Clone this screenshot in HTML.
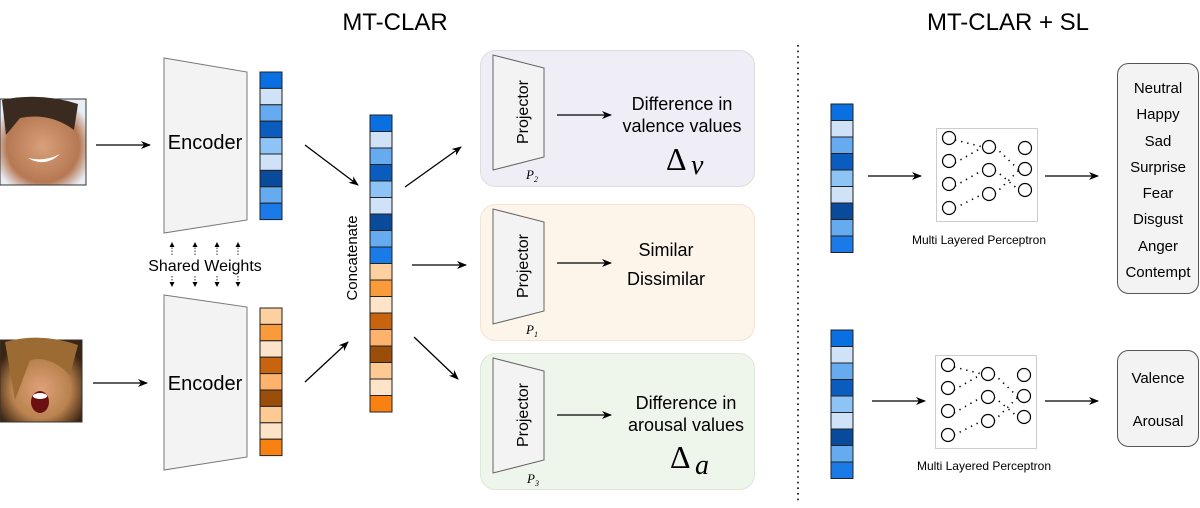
<!DOCTYPE html>
<html><head><meta charset="utf-8"><style>
html,body{margin:0;padding:0;background:#fff;}
svg{display:block;font-family:"Liberation Sans",Arial,sans-serif;}
</style></head><body>
<svg width="1200" height="508" viewBox="0 0 1200 508" xmlns="http://www.w3.org/2000/svg">
<defs>
<marker id="ah" markerWidth="10" markerHeight="8" refX="9" refY="4" orient="auto" markerUnits="userSpaceOnUse">
<path d="M0,0 L10,4 L0,8 L3,4 Z" fill="#000"/></marker>
<marker id="sh" markerWidth="5" markerHeight="5" refX="4" refY="2.5" orient="auto" markerUnits="userSpaceOnUse">
<path d="M0,0 L5,2.5 L0,5 Z" fill="#000"/></marker>
<radialGradient id="skin1" cx="0.5" cy="0.55" r="0.6"><stop offset="0" stop-color="#d9a07a"/><stop offset="0.7" stop-color="#b57853"/><stop offset="1" stop-color="#e8eef5"/></radialGradient>
<radialGradient id="skin2" cx="0.5" cy="0.6" r="0.6"><stop offset="0" stop-color="#e0a27a"/><stop offset="0.6" stop-color="#b9824e"/><stop offset="1" stop-color="#3a2412"/></radialGradient>
</defs>

<text x="395" y="30" font-size="24" text-anchor="middle">MT-CLAR</text>
<text x="1008" y="30" font-size="24" text-anchor="middle">MT-CLAR + SL</text>

<rect x="0" y="99" width="86" height="86" fill="url(#skin1)" stroke="#333" stroke-width="1"/>
<path d="M2,100 Q40,92 78,104 L74,130 Q50,112 20,118 L6,135 Z" fill="#3a2a20"/>
<path d="M28,158 Q45,168 60,154 Q45,162 28,158Z" fill="#fff"/>
<rect x="0" y="340" width="82" height="82" fill="url(#skin2)" stroke="#333" stroke-width="1"/>
<path d="M5,342 Q40,332 78,345 L70,375 Q50,355 30,360 L15,400 Z" fill="#9c6a33"/>
<ellipse cx="40" cy="402" rx="9" ry="11" fill="#6a1010"/>
<ellipse cx="40" cy="396" rx="7" ry="3" fill="#fff"/>

<line x1="96" y1="145" x2="150" y2="145" stroke="#000" stroke-width="1.3" marker-end="url(#ah)"/>
<line x1="93" y1="383" x2="147" y2="383" stroke="#000" stroke-width="1.3" marker-end="url(#ah)"/>

<polygon points="164,58 247,72 247,220 164,233" fill="#f3f3f3" stroke="#777" stroke-width="1"/>
<text x="205" y="149" font-size="20" text-anchor="middle">Encoder</text>
<polygon points="164,295 247,307 247,457 164,470" fill="#f3f3f3" stroke="#777" stroke-width="1"/>
<text x="205" y="390" font-size="20" text-anchor="middle">Encoder</text>

<g stroke="#000" stroke-width="0.8" stroke-dasharray="1.5,1.5">
<line x1="172" y1="255" x2="172" y2="243" marker-end="url(#sh)"/>
<line x1="195" y1="255" x2="195" y2="243" marker-end="url(#sh)"/>
<line x1="217" y1="255" x2="217" y2="243" marker-end="url(#sh)"/>
<line x1="238" y1="255" x2="238" y2="243" marker-end="url(#sh)"/>
<line x1="172" y1="276" x2="172" y2="286" marker-end="url(#sh)"/>
<line x1="195" y1="276" x2="195" y2="286" marker-end="url(#sh)"/>
<line x1="217" y1="276" x2="217" y2="286" marker-end="url(#sh)"/>
<line x1="238" y1="276" x2="238" y2="286" marker-end="url(#sh)"/>
</g>
<text x="205" y="271" font-size="16" text-anchor="middle">Shared Weights</text>

<g stroke="#222" stroke-width="1">
<rect x="260" y="72" width="22" height="16.4" fill="#0a6fe0"/>
<rect x="260" y="88.4" width="22" height="16.4" fill="#cfe2f7"/>
<rect x="260" y="104.8" width="22" height="16.4" fill="#66aaf0"/>
<rect x="260" y="121.2" width="22" height="16.4" fill="#0a5cbe"/>
<rect x="260" y="137.6" width="22" height="16.4" fill="#8ec3f5"/>
<rect x="260" y="154" width="22" height="16.4" fill="#cfe2f7"/>
<rect x="260" y="170.4" width="22" height="16.4" fill="#0a4a9a"/>
<rect x="260" y="186.8" width="22" height="16.4" fill="#66aaf0"/>
<rect x="260" y="203.2" width="22" height="16.4" fill="#1a7ae8"/>

<rect x="260" y="308" width="22" height="16.4" fill="#fdd0a0"/>
<rect x="260" y="324.4" width="22" height="16.4" fill="#f99a3b"/>
<rect x="260" y="340.8" width="22" height="16.4" fill="#fde3c8"/>
<rect x="260" y="357.2" width="22" height="16.4" fill="#c8640e"/>
<rect x="260" y="373.6" width="22" height="16.4" fill="#fdb36c"/>
<rect x="260" y="390" width="22" height="16.4" fill="#9a4e0a"/>
<rect x="260" y="406.4" width="22" height="16.4" fill="#fdca94"/>
<rect x="260" y="422.8" width="22" height="16.4" fill="#fde3c8"/>
<rect x="260" y="439.2" width="22" height="16.4" fill="#f98112"/>

<rect x="370" y="115" width="22" height="16.5" fill="#0a6fe0"/>
<rect x="370" y="131.5" width="22" height="16.5" fill="#cfe2f7"/>
<rect x="370" y="148" width="22" height="16.5" fill="#66aaf0"/>
<rect x="370" y="164.5" width="22" height="16.5" fill="#0a5cbe"/>
<rect x="370" y="181" width="22" height="16.5" fill="#8ec3f5"/>
<rect x="370" y="197.5" width="22" height="16.5" fill="#cfe2f7"/>
<rect x="370" y="214" width="22" height="16.5" fill="#0a4a9a"/>
<rect x="370" y="230.5" width="22" height="16.5" fill="#66aaf0"/>
<rect x="370" y="247" width="22" height="16.5" fill="#1a7ae8"/>
<rect x="370" y="263.5" width="22" height="16.5" fill="#fdd0a0"/>
<rect x="370" y="280" width="22" height="16.5" fill="#f99a3b"/>
<rect x="370" y="296.5" width="22" height="16.5" fill="#fde3c8"/>
<rect x="370" y="313" width="22" height="16.5" fill="#c8640e"/>
<rect x="370" y="329.5" width="22" height="16.5" fill="#fdb36c"/>
<rect x="370" y="346" width="22" height="16.5" fill="#9a4e0a"/>
<rect x="370" y="362.5" width="22" height="16.5" fill="#fdca94"/>
<rect x="370" y="379" width="22" height="16.5" fill="#fde3c8"/>
<rect x="370" y="395.5" width="22" height="16.5" fill="#f98112"/>

<rect x="831" y="104" width="22" height="16.5" fill="#0a6fe0"/>
<rect x="831" y="120.5" width="22" height="16.5" fill="#cfe2f7"/>
<rect x="831" y="137" width="22" height="16.5" fill="#66aaf0"/>
<rect x="831" y="153.5" width="22" height="16.5" fill="#0a5cbe"/>
<rect x="831" y="170" width="22" height="16.5" fill="#8ec3f5"/>
<rect x="831" y="186.5" width="22" height="16.5" fill="#cfe2f7"/>
<rect x="831" y="203" width="22" height="16.5" fill="#0a4a9a"/>
<rect x="831" y="219.5" width="22" height="16.5" fill="#66aaf0"/>
<rect x="831" y="236" width="22" height="16.5" fill="#1a7ae8"/>

<rect x="831" y="330" width="22" height="16.5" fill="#0a6fe0"/>
<rect x="831" y="346.5" width="22" height="16.5" fill="#cfe2f7"/>
<rect x="831" y="363" width="22" height="16.5" fill="#66aaf0"/>
<rect x="831" y="379.5" width="22" height="16.5" fill="#0a5cbe"/>
<rect x="831" y="396" width="22" height="16.5" fill="#8ec3f5"/>
<rect x="831" y="412.5" width="22" height="16.5" fill="#cfe2f7"/>
<rect x="831" y="429" width="22" height="16.5" fill="#0a4a9a"/>
<rect x="831" y="445.5" width="22" height="16.5" fill="#66aaf0"/>
<rect x="831" y="462" width="22" height="16.5" fill="#1a7ae8"/>
</g>

<text transform="translate(357,258) rotate(-90)" font-size="15" text-anchor="middle">Concatenate</text>

<g stroke="#000" stroke-width="1.3">
<line x1="305" y1="145" x2="358" y2="185" marker-end="url(#ah)"/>
<line x1="305" y1="382" x2="348" y2="342" marker-end="url(#ah)"/>
<line x1="405" y1="187" x2="461" y2="147" marker-end="url(#ah)"/>
<line x1="412" y1="265" x2="466" y2="265" marker-end="url(#ah)"/>
<line x1="414" y1="337" x2="458" y2="379" marker-end="url(#ah)"/>
</g>

<rect x="480.5" y="50.5" width="274" height="136" rx="15" fill="#efedf6" stroke="#ddd"/>
<rect x="480.5" y="204.5" width="274" height="136" rx="15" fill="#fdf4ea" stroke="#f3e3d0"/>
<rect x="480.5" y="353.5" width="274" height="136" rx="15" fill="#eef5ea" stroke="#dde8d6"/>

<g fill="#f3f3f3" stroke="#666" stroke-width="1">
<polygon points="493,55 544,68 544,157 493,170"/>
<polygon points="493,209 544,222 544,311 493,324"/>
<polygon points="493,358 544,371 544,460 493,473"/>
</g>
<text transform="translate(528,112) rotate(-90)" font-size="16" text-anchor="middle">Projector</text>
<text transform="translate(528,266) rotate(-90)" font-size="16" text-anchor="middle">Projector</text>
<text transform="translate(528,415) rotate(-90)" font-size="16" text-anchor="middle">Projector</text>
<g font-family="Liberation Serif,serif" font-style="italic" font-size="13">
<text x="526" y="179">P<tspan font-size="8" dy="3">2</tspan></text>
<text x="526" y="334">P<tspan font-size="8" dy="3">1</tspan></text>
<text x="527" y="483">P<tspan font-size="8" dy="3">3</tspan></text>
</g>

<g stroke="#000" stroke-width="1.3">
<line x1="557" y1="115" x2="611" y2="115" marker-end="url(#ah)"/>
<line x1="557" y1="263" x2="611" y2="263" marker-end="url(#ah)"/>
<line x1="557" y1="415" x2="611" y2="415" marker-end="url(#ah)"/>
</g>
<g font-size="18" text-anchor="middle">
<text x="682" y="110">Difference in</text>
<text x="682" y="132">valence values</text>
<text x="666" y="256">Similar</text>
<text x="666" y="285">Dissimilar</text>
<text x="686" y="409">Difference in</text>
<text x="686" y="431">arousal values</text>
</g>
<g font-family="Liberation Serif,serif">
<text x="666" y="170" font-size="32">Δ</text><text x="691" y="174" font-size="28" font-style="italic">v</text>
<text x="670" y="468" font-size="32">Δ</text><text x="695" y="474" font-size="28" font-style="italic">a</text>
</g>

<line x1="798" y1="45" x2="798" y2="502" stroke="#000" stroke-width="1.6" stroke-dasharray="1.6,4"/>

<g stroke="#000" stroke-width="1.3">
<line x1="868" y1="176" x2="921" y2="176" marker-end="url(#ah)"/>
<line x1="1045" y1="176" x2="1098" y2="176" marker-end="url(#ah)"/>
<line x1="872" y1="401" x2="925" y2="401" marker-end="url(#ah)"/>
<line x1="1045" y1="401" x2="1098" y2="401" marker-end="url(#ah)"/>
</g>

<g id="mlp1">
<rect x="936.5" y="128.5" width="101" height="93" fill="#fff" stroke="#ccc"/>
<g stroke="#000" stroke-width="1.6" stroke-dasharray="1.3,5" fill="none">
<line x1="955" y1="140" x2="983" y2="147"/>
<line x1="955" y1="186" x2="983" y2="170"/><line x1="955" y1="208" x2="983" y2="194"/>
<line x1="955" y1="163" x2="983" y2="147"/>
<line x1="995" y1="147" x2="1019" y2="170"/><line x1="995" y1="170" x2="1019" y2="190"/>
<line x1="995" y1="194" x2="1019" y2="170"/>
</g>
<g fill="#fff" stroke="#000" stroke-width="1.2">
<circle cx="949" cy="138" r="6.5"/><circle cx="949" cy="161" r="6.5"/><circle cx="949" cy="184" r="6.5"/><circle cx="949" cy="208" r="6.5"/>
<circle cx="989" cy="147" r="6.5"/><circle cx="989" cy="170" r="6.5"/><circle cx="989" cy="194" r="6.5"/>
<circle cx="1025" cy="148" r="6.5"/><circle cx="1025" cy="169" r="6.5"/><circle cx="1025" cy="190" r="6.5"/>
</g>
</g>
<use href="#mlp1" transform="translate(-1,227)"/>
<text x="979" y="244" font-size="12" text-anchor="middle">Multi Layered Perceptron</text>
<text x="984" y="470" font-size="12" text-anchor="middle">Multi Layered Perceptron</text>

<rect x="1117.5" y="63.5" width="81" height="230" rx="11" fill="#f3f3f3" stroke="#555"/>
<g font-size="15" text-anchor="middle">
<text x="1158" y="93">Neutral</text>
<text x="1158" y="119">Happy</text>
<text x="1158" y="146">Sad</text>
<text x="1158" y="172">Surprise</text>
<text x="1158" y="198">Fear</text>
<text x="1158" y="224">Disgust</text>
<text x="1158" y="251">Anger</text>
<text x="1158" y="277">Contempt</text>
</g>
<rect x="1117.5" y="350.5" width="81" height="96" rx="11" fill="#f3f3f3" stroke="#555"/>
<text x="1158" y="383" font-size="15" text-anchor="middle">Valence</text>
<text x="1158" y="426" font-size="15" text-anchor="middle">Arousal</text>
</svg>
</body></html>
